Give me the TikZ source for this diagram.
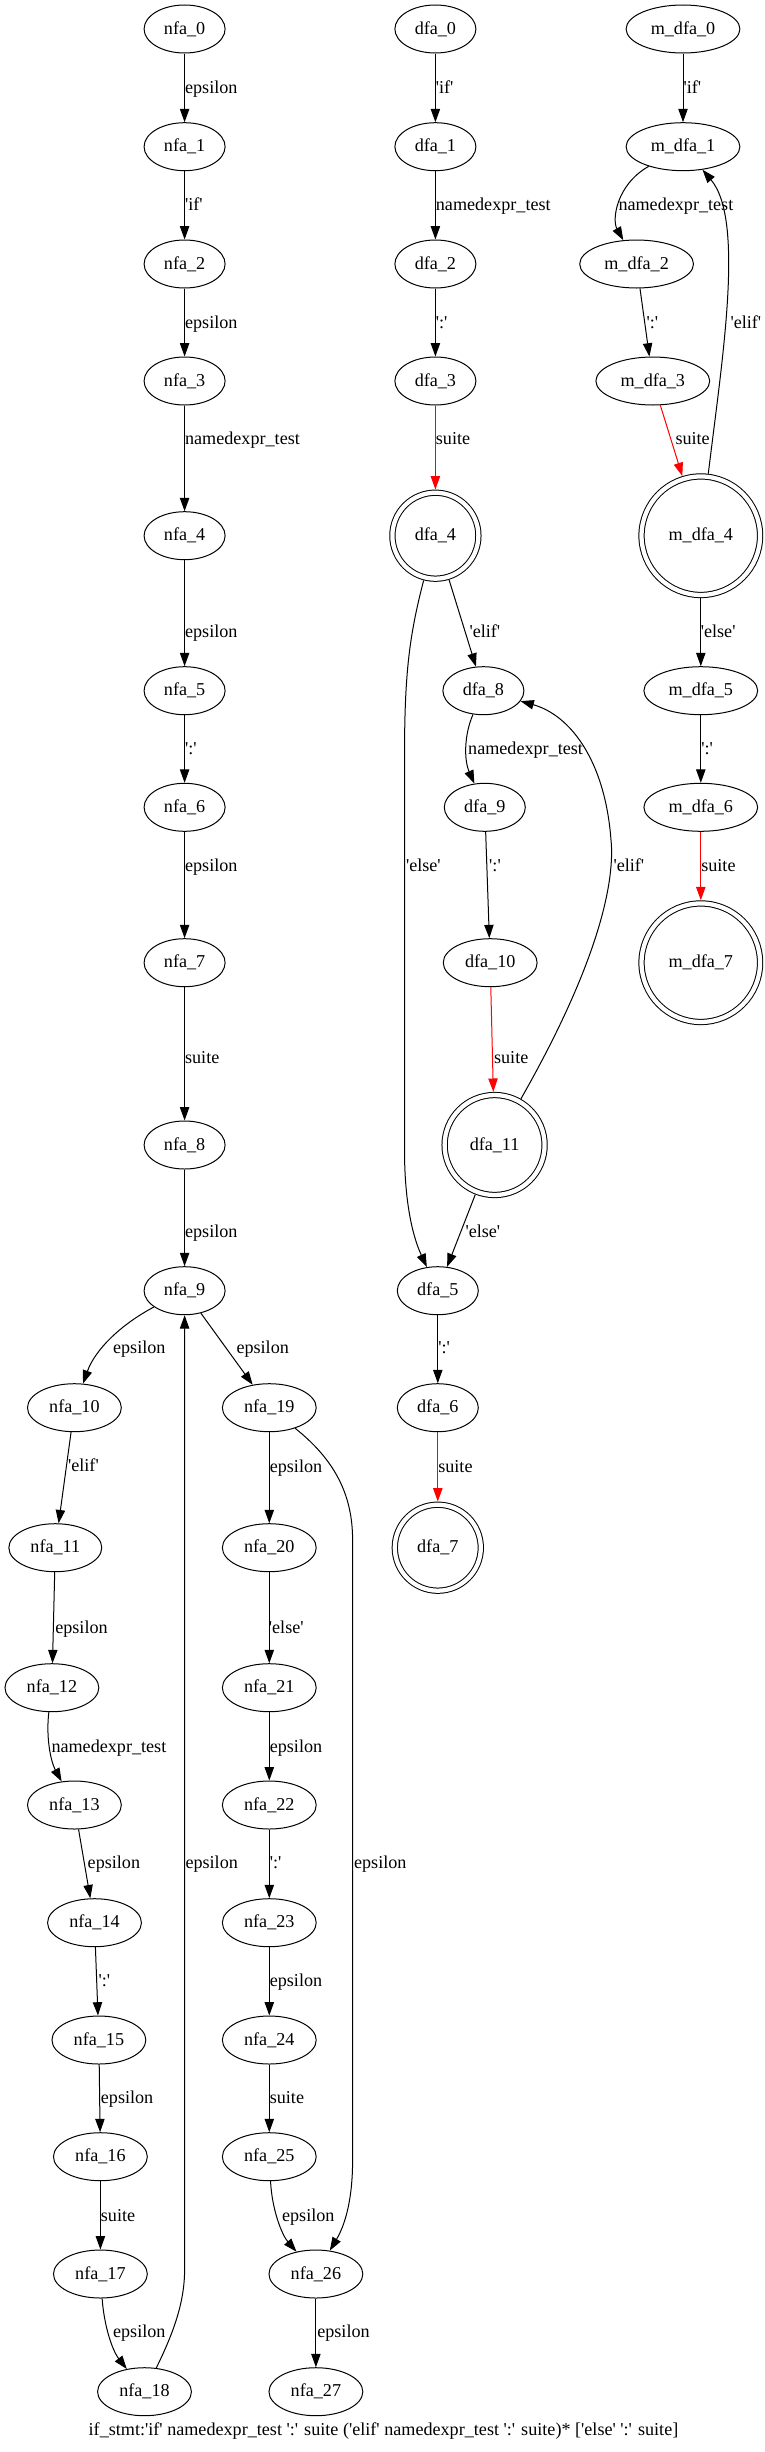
\documentclass[tikz,border=0pt]{standalone}
\usepackage{fontspec}
\setmainfont{Liberation Serif}
\usetikzlibrary{arrows.meta, shapes.geometric}
\newcommand{\tok}[1]{\textquotesingle#1\textquotesingle}

\begin{document}
\begin{tikzpicture}[x=0.75pt, y=-0.75pt, >={Triangle[length=10pt, width=7pt]},
    font=\fontsize{13.6}{16}\selectfont,
    st/.style={ellipse, draw, line width=0.75pt, inner xsep=6pt, inner ysep=1pt, minimum height=36pt},
    fin/.style={circle, draw, line width=0.75pt, double, double distance=3.2pt, inner sep=0pt, outer sep=2.4pt},
    tr/.style={->, line width=0.75pt},
    trred/.style={tr, red},
    lbl/.style={anchor=west, inner sep=0pt, text height=10pt, text depth=2pt}]

    \useasboundingbox (0,0) rectangle (764,2452);

    % 1. NFA states
    \foreach \i/\y in {0/29, 1/146.7, 2/264, 3/381, 4/535.7, 5/690.7, 6/807.3, 7/962.7, 8/1145, 9/1290.7}{
      \node[st] (nfa\i) at (184.6,\y) {nfa\_\i};
    }
    \foreach \i/\x/\y in {10/74.4/1407.7, 11/55.3/1547.7, 12/51.9/1687.7, 13/74.4/1805, 14/94.5/1922.7,
        15/98.9/2040, 16/100.4/2156.7, 17/100.4/2274, 18/144.5/2391.7, 19/269.3/1407.7, 20/269.3/1547.7,
        21/269.3/1687.7, 22/269.3/1805, 23/269.3/1922.7, 24/269.3/2040, 25/269.3/2156.7,
        26/315.9/2274, 27/315.9/2391.7}{
      \node[st] (nfa\i) at (\x,\y) {nfa\_\i};
    }

    % 2. DFA states
    \foreach \i/\x/\y in {0/435.4/29, 1/435.4/146.7, 2/435.4/264, 3/435.4/381, 5/437.8/1290.7,
        6/437.8/1407.7, 8/483.4/690.7, 9/484.8/807.3, 10/490.2/962.7}{
      \node[st] (dfa\i) at (\x,\y) {dfa\_\i};
    }
    \node[fin, minimum size=64.5pt] (dfa4) at (435.4,535.7) {dfa\_4};
    \node[fin, minimum size=64.5pt] (dfa7) at (437.8,1547.7) {dfa\_7};
    \node[fin, minimum size=75pt] (dfa11) at (494.6,1145) {dfa\_11};

    % 3. minimised DFA states
    \foreach \i/\x/\y in {0/683/29, 1/683/146.7, 2/636.6/264, 3/652.8/381, 5/700.8/690.7, 6/700.8/807.3}{
      \node[st] (mdfa\i) at (\x,\y) {m\_dfa\_\i};
    }
    \node[fin, minimum size=88.9pt] (mdfa4) at (700.8,535.7) {m\_dfa\_4};
    \node[fin, minimum size=88.9pt] (mdfa7) at (700.8,962.7) {m\_dfa\_7};

    % 4. NFA transitions
    \foreach \a/\b/\t/\ly in {0/1/epsilon/88.3, 1/2/\tok{if}/204.7, 2/3/epsilon/322.7,
        3/4/namedexpr\_test/439.3, 4/5/epsilon/631.7, 5/6/\tok{:}/749, 6/7/epsilon/866,
        7/8/suite/1058.3, 8/9/epsilon/1231.7}{
      \draw[tr] (nfa\a) -- (nfa\b) node[lbl] at (184.6,\ly) {\t};
    }
    \foreach \a/\b/\t/\lx/\ly in {9/19/epsilon/236/1348.3, 10/11/\tok{elif}/67.6/1466,
        11/12/epsilon/54.8/1628, 13/14/epsilon/87.2/1863.3, 14/15/\tok{:}/98/1980.7,
        15/16/epsilon/100.4/2098.3, 16/17/suite/100.4/2215.7, 19/20/epsilon/269.3/1466.7,
        20/21/\tok{else}/268.4/1628.3, 21/22/epsilon/269.3/1746.7, 22/23/\tok{:}/269.3/1863.3,
        23/24/epsilon/269.3/1980.7, 24/25/suite/269.3/2098.3, 26/27/epsilon/316.8/2332.3}{
      \draw[tr] (nfa\a) -- (nfa\b) node[lbl] at (\lx,\ly) {\t};
    }
    \draw[tr] (nfa9) .. controls (120,1325) and (95,1350) .. (nfa10)
      node[lbl] at (112.6,1348.3) {epsilon};
    \draw[tr] (nfa12) .. controls (46,1735) and (50,1760) .. (nfa13)
      node[lbl] at (51,1746.7) {namedexpr\_test};
    \draw[tr] (nfa17) .. controls (104,2325) and (112,2350) .. (nfa18)
      node[lbl] at (112.6,2332.3) {epsilon};
    \draw[tr] (nfa18) .. controls (175,2330) and (184.6,2300) .. (184.6,2270) -- (nfa9)
      node[lbl] at (185,1863.3) {epsilon};
    \draw[tr] (nfa19) .. controls (335,1460) and (352.6,1495) .. (352.6,1540) -- (352.6,2160)
      .. controls (352.6,2200) and (345,2225) .. (nfa26)
      node[lbl] at (353.6,1863.3) {epsilon};
    \draw[tr] (nfa25) .. controls (272,2210) and (282,2235) .. (nfa26)
      node[lbl] at (281.6,2215.7) {epsilon};

    % 5. DFA transitions
    \foreach \a/\b/\t/\lx/\ly in {0/1/\tok{if}/435.4/88.3, 1/2/namedexpr\_test/435.4/204.7,
        2/3/\tok{:}/435.4/322.7, 4/8/\tok{elif}/469/631.7, 9/10/\tok{:}/488.7/866,
        11/5/\tok{else}/465/1231.7, 5/6/\tok{:}/437.8/1348.3}{
      \draw[tr] (dfa\a) -- (dfa\b) node[lbl] at (\lx,\ly) {\t};
    }
    \foreach \a/\b/\lx/\ly in {3/4/435.4/439.3, 10/11/493.6/1058.3, 6/7/437.8/1466.7}{
      \draw[trred] (dfa\a) -- (dfa\b) node[lbl, text=black] at (\lx,\ly) {suite};
    }
    \draw[tr] (dfa4) .. controls (408,640) and (404.5,680) .. (404.5,760) -- (404.5,1150)
      .. controls (404.5,1200) and (412,1235) .. (dfa5)
      node[lbl] at (405.5,866) {\tok{else}};
    \draw[tr] (dfa8) .. controls (464,735) and (464,760) .. (dfa9)
      node[lbl] at (467.7,749) {namedexpr\_test};
    \draw[tr] (dfa11) .. controls (600,960) and (615,880) .. (611,840)
      .. controls (605,760) and (570,715) .. (dfa8)
      node[lbl] at (613,866) {\tok{elif}};

    % 6. minimised DFA transitions
    \foreach \a/\b/\t/\lx/\ly in {0/1/\tok{if}/683/88.3, 2/3/\tok{:}/646/322.7,
        4/5/\tok{else}/700.3/631.7, 5/6/\tok{:}/700.8/749}{
      \draw[tr] (mdfa\a) -- (mdfa\b) node[lbl] at (\lx,\ly) {\t};
    }
    \foreach \a/\b/\lx/\ly in {3/4/675/439.3, 6/7/700.8/866}{
      \draw[trred] (mdfa\a) -- (mdfa\b) node[lbl, text=black] at (\lx,\ly) {suite};
    }
    \draw[tr] (mdfa1) .. controls (616,185) and (612,220) .. (mdfa2)
      node[lbl] at (618,204.7) {namedexpr\_test};
    \draw[tr] (mdfa4) .. controls (722,360) and (745,220) .. (mdfa1)
      node[lbl] at (730,322.7) {\tok{elif}};

    % 7. rule caption
    \node (caption) at (383.5,2431) {if\_stmt:\tok{if} namedexpr\_test \tok{:} suite (\tok{elif} namedexpr\_test \tok{:} suite)* [\tok{else} \tok{:} suite]};

  \end{tikzpicture}
\end{document}
